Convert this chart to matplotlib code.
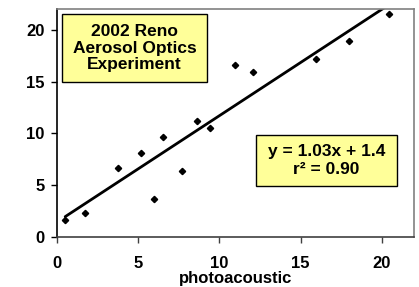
import matplotlib
matplotlib.use("Agg")
import matplotlib.pyplot as plt
from matplotlib.patches import Rectangle
import numpy as np

plt.rcParams['font.family'] = ['Liberation Sans', 'DejaVu Sans']
plt.rcParams['font.weight'] = 'bold'

x_vals = [0.53, 1.74, 3.80, 5.19, 5.97, 6.52, 7.71, 8.61, 9.42, 10.96, 12.09, 15.93, 17.98, 20.43]
y_vals = [1.59, 2.30, 6.64, 8.06, 3.69, 9.61, 6.35, 11.23, 10.55, 16.57, 15.89, 17.22, 18.90, 21.50]
slope = 1.03
intercept = 1.4
x_ticks = [0, 5, 10, 15, 20]
y_ticks = [0, 5, 10, 15, 20]
title_text = "2002 Reno\nAerosol Optics\nExperiment"
fit_text = "y = 1.03x + 1.4\nr\u00b2 = 0.90"
x_label = "photoacoustic"

fig = plt.figure(figsize=(4.19, 2.87), dpi=100)
ax = fig.add_axes([0.135, 0.175, 0.854, 0.7925])

ax.plot(x_vals, y_vals, linestyle='none', marker='D', markersize=3.2, color='black', zorder=3)
xl = np.array([min(x_vals), max(x_vals)])
ax.plot(xl, slope * xl + intercept, color='black', linewidth=2.0, zorder=2,
        solid_capstyle='round')

ax.set_xlim(0, 22)
ax.set_ylim(0, 22)
ax.set_xticks(x_ticks)
ax.set_yticks(y_ticks)
ax.tick_params(direction='out', length=4, width=1, labelsize=12)
ax.tick_params(axis='y', pad=4.5)
ax.tick_params(axis='x', colors='#404040', labelcolor='black', pad=9.5)
for lab in ax.get_xticklabels() + ax.get_yticklabels():
    lab.set_fontweight('bold')

ax.spines['left'].set_color('black')
ax.spines['bottom'].set_color('#404040')
ax.spines['top'].set_color('#808080')
ax.spines['right'].set_color('#808080')
for s in ax.spines.values():
    s.set_linewidth(1.2)

ax.set_xlabel(x_label, fontsize=12, fontweight='bold', labelpad=0.5)

ax.add_patch(Rectangle((0.015, 0.680), 0.405, 0.299, transform=ax.transAxes,
                       facecolor='#FFFF99', edgecolor='black', linewidth=1.0, zorder=4))
ax.text(0.2175, 0.8295, title_text, transform=ax.transAxes, ha='center', va='center',
        fontsize=12.5, fontweight='bold', linespacing=1.1, zorder=5)

ax.add_patch(Rectangle((0.557, 0.223), 0.394, 0.224, transform=ax.transAxes,
                       facecolor='#FFFF99', edgecolor='black', linewidth=1.0, zorder=4))
ax.text(0.754, 0.335, fit_text, transform=ax.transAxes, ha='center', va='center',
        fontsize=12.5, fontweight='bold', linespacing=1.2, zorder=5)

fig.savefig("out.png", dpi=100)
